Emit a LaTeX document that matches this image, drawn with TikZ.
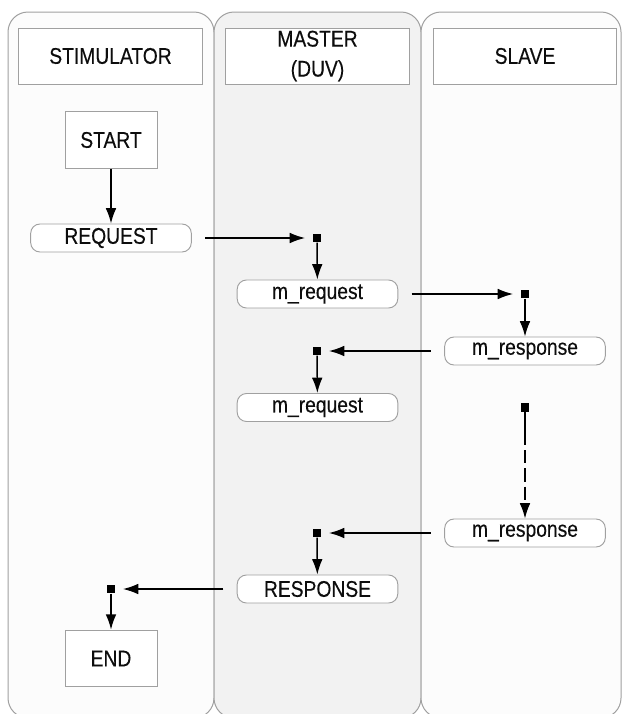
\documentclass[tikz,border=0pt]{standalone}
\usepackage{fontspec}
\setmainfont[FakeStretch=0.85, FakeBold=0.3]{Liberation Sans}
\usetikzlibrary{arrows.meta}

\definecolor{lanegray}{HTML}{A0A0A0}
\definecolor{lanefill}{HTML}{FCFCFC}
\definecolor{midfill}{HTML}{F2F2F2}
\definecolor{inkc}{HTML}{0D0D0D}

\tikzset{
  lane/.style={draw=lanegray, line width=0.75pt, rounded corners=15pt},
  header/.style={draw=lanegray, fill=white, line width=0.7pt, inner sep=0pt,
    minimum width=137.5pt, minimum height=42pt, align=center,
    font=\fontsize{17}{22.5}\selectfont, text=inkc},
  stepbox/.style={draw=lanegray, fill=white, line width=0.7pt, inner sep=0pt,
    minimum width=69pt, minimum height=42.5pt,
    font=\fontsize{17}{20}\selectfont, text=inkc},
  pill/.style={draw=lanegray, fill=white, line width=0.7pt, inner sep=0pt,
    rounded corners=7pt, minimum width=120.5pt, minimum height=21pt,
    font=\fontsize{17}{20}\selectfont, text=inkc},
  sync/.style={fill=black, inner sep=0pt, minimum width=5.5pt, minimum height=6.5pt},
  flow/.style={line width=1.1pt, -{Latex[length=11.5pt,width=8pt]}},
  msg/.style={flow, shorten <=10pt, shorten >=6pt},
}

\begin{document}
\begin{tikzpicture}[x=0.75pt, y=-0.75pt]
\useasboundingbox (0,0) rectangle (622,714);
\clip (0,0) rectangle (622,714);
\fill[white] (0,0) rectangle (622,714);

% swimlanes
\draw[lane, fill=lanefill] (8,12) rectangle (214,718);
\draw[lane, fill=midfill] (214,12) rectangle (421,718);
\draw[lane, fill=lanefill] (421,12) rectangle (621,718);

% lane headers
\node[header] (hstim) at (110.5,56) {STIMULATOR};
\node[header] (hmast) at (317.5,56) {MASTER\\(DUV)};
\node[header] (hslav) at (525,56) {SLAVE};

% stimulator
\node[stepbox] (start) at (111,140) {START};
\node[pill] (request) at (111,238) {REQUEST};
\node[sync] (s6) at (111,589) {};
\node[stepbox] (stop) at (111,658.5) {END};

% master
\node[sync] (s1) at (317,238) {};
\node[pill] (mreqa) at (317.5,294) {m\_request};
\node[sync] (s3) at (317,351) {};
\node[pill] (mreqb) at (317.5,407.5) {m\_request};
\node[sync] (s5) at (317,533) {};
\node[pill] (response) at (317.5,589) {RESPONSE};

% slave
\node[sync] (s2) at (525,294) {};
\node[pill] (mrespa) at (525,351) {m\_response};
\node[sync] (s4) at (525,407.5) {};
\coordinate (brk) at (525,445);
\node[pill] (mrespb) at (525,533) {m\_response};

% control flow
\draw[flow] (start) -- (request);
\draw[msg] (request) -- (s1);
\draw[flow] (s1) -- (mreqa);
\draw[msg] (mreqa) -- (s2);
\draw[flow] (s2) -- (mrespa);
\draw[msg] (mrespa) -- (s3);
\draw[flow] (s3) -- (mreqb);
\draw[line width=1.1pt] (s4) -- (brk);
\draw[flow, dash pattern=on 10pt off 3.75pt, dash phase=10pt] (brk) -- (mrespb);
\draw[msg] (mrespb) -- (s5);
\draw[flow] (s5) -- (response);
\draw[msg] (response) -- (s6);
\draw[flow] (s6) -- (stop);
\end{tikzpicture}
\end{document}
